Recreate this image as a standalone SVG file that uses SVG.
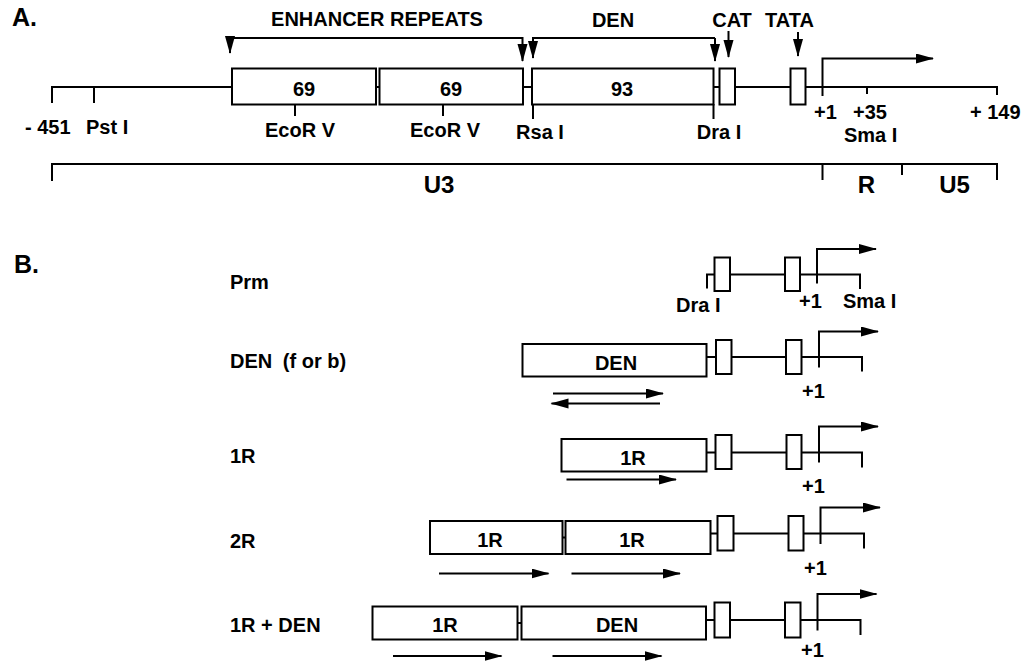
<svg xmlns="http://www.w3.org/2000/svg" width="1026" height="662" viewBox="0 0 1026 662">
<defs>
<style>
text{font-family:"Liberation Sans",Arial,sans-serif;font-weight:bold;fill:#000}
.h{font-size:25px}
.l{font-size:20px}
.b{font-size:24px}
.m{text-anchor:middle}
.ln{fill:none;stroke:#000;stroke-width:2}
.bx{fill:#fff;stroke:#000;stroke-width:2}
.ar{fill:none;stroke:#000;stroke-width:2;marker-end:url(#ah)}
</style>
<marker id="ah" markerUnits="userSpaceOnUse" markerWidth="19" markerHeight="11" refX="17" refY="5" orient="auto">
<path d="M0,0 L18,5 L0,10 z" fill="#000"/>
</marker>
</defs>
<rect width="1026" height="662" fill="#fff"/>

<g id="panelA-title"><text class="h" x="12" y="26">A.</text></g>

<g id="connectors">
<path class="ln" d="M52,103 V87 H997 V95 M94,87 V103 M867,87 V94"/>
<path class="ln" d="M295,104 V116 M443,104 V116 M533,104 V119 M713.5,104 V119"/>
<path class="ar" d="M230,38 V53"/>
<path class="ar" d="M230,38 H522.5 V61"/>
<path class="ar" d="M715,38 V61"/>
<path class="ar" d="M715,38 H533 V58"/>
<path class="ar" d="M728.5,31 V57"/>
<path class="ar" d="M798,32 V56"/>
<path class="ar" d="M822.5,96 V58.5 H933"/>
<path class="ln" d="M52,181 V164 H997 V180 M822.5,164 V180 M902,164 V175"/>

<path class="ln" d="M707,288.5 V274.5 H860 V289"/>
<path class="ar" d="M817,283.5 V249 H876"/>

<path class="ln" d="M706.5,357 H862 V371.5"/>
<path class="ar" d="M819,367.5 V331.5 H878"/>
<path class="ar" d="M553,393.5 H663"/>
<path class="ar" d="M660,403.5 H551.5"/>

<path class="ln" d="M706.5,452.5 H862 V467.5"/>
<path class="ar" d="M819,462.5 V426.5 H878"/>
<path class="ar" d="M566.5,479.5 H676"/>

<path class="ln" d="M562.5,537.5 H565.5 M710.5,533.5 H864 V548.5"/>
<path class="ar" d="M820.5,544 V507.5 H880"/>
<path class="ar" d="M439,573.5 H548.5"/>
<path class="ar" d="M571.5,573.5 H680"/>

<path class="ln" d="M517.5,623 H521.5 M706,620 H860.5 V635"/>
<path class="ar" d="M817.5,630.5 V594 H876.5"/>
<path class="ar" d="M393,656 H501.5"/>
<path class="ar" d="M552.5,656 H661.5"/>
</g>

<g id="enhancer-label"><text class="l m" x="377" y="26">ENHANCER REPEATS</text></g>
<g id="den-label"><text class="l m" x="613" y="27">DEN</text></g>
<g id="cat-label"><text class="l m" x="732" y="27">CAT</text></g>
<g id="tata-label"><text class="l m" x="789.5" y="27">TATA</text></g>

<g id="repeat1"><rect class="bx" x="232" y="68.5" width="144" height="36"/><text class="l m" x="304" y="96">69</text></g>
<g id="repeat2"><rect class="bx" x="379.5" y="68.5" width="143.5" height="36"/><text class="l m" x="451" y="96">69</text></g>
<path class="ln" d="M376,87 H379.5 M523,87 H532"/>
<g id="den93"><rect class="bx" x="532" y="68.5" width="181.5" height="36"/><text class="l m" x="622" y="96">93</text></g>
<g id="cat-box-A"><rect class="bx" x="719.5" y="68.5" width="15.5" height="36"/></g>
<g id="tata-box-A"><rect class="bx" x="790.5" y="68.5" width="15" height="36"/></g>

<g id="sites-A">
<text class="l" x="25" y="134">- 451</text>
<text class="l" x="86" y="134">Pst I</text>
<text class="l m" x="300" y="137">EcoR V</text>
<text class="l m" x="445" y="137">EcoR V</text>
<text class="l m" x="540" y="139">Rsa I</text>
<text class="l m" x="719" y="139">Dra I</text>
<text class="l" x="814" y="119">+1</text>
<text class="l" x="853" y="119">+35</text>
<text class="l" x="970" y="119">+ 149</text>
<text class="l" x="844" y="142">Sma I</text>
</g>

<g id="regions">
<text class="b m" x="439" y="193">U3</text>
<text class="b m" x="866.5" y="193">R</text>
<text class="b m" x="954.5" y="193">U5</text>
</g>

<g id="panelB-title"><text class="h" x="14" y="273">B.</text></g>

<g id="row-prm">
<text class="l" x="230" y="289">Prm</text>
<rect class="bx" x="714.5" y="257.5" width="15.5" height="33.5"/>
<rect class="bx" x="785" y="257.5" width="15" height="33.5"/>
<text class="l" x="676" y="312">Dra I</text>
<text class="l" x="799" y="308">+1</text>
<text class="l" x="843" y="308">Sma I</text>
</g>

<g id="row-den">
<text class="l" x="230" y="368">DEN <tspan dx="5">(f or b)</tspan></text>
<rect class="bx" x="522.5" y="344" width="184" height="32.5"/>
<text class="l m" x="616" y="370">DEN</text>
<rect class="bx" x="716" y="340" width="15.5" height="34"/>
<rect class="bx" x="786" y="340" width="15.5" height="34"/>
<text class="l" x="802" y="398">+1</text>
</g>

<g id="row-1r">
<text class="l" x="230" y="463">1R</text>
<rect class="bx" x="561.5" y="439" width="145" height="32.5"/>
<text class="l m" x="633" y="465">1R</text>
<rect class="bx" x="715.5" y="435" width="16" height="34"/>
<rect class="bx" x="786.5" y="435" width="15" height="34"/>
<text class="l" x="802" y="493">+1</text>
</g>

<g id="row-2r">
<text class="l" x="230" y="548">2R</text>
<rect class="bx" x="430" y="521" width="132.5" height="33"/>
<text class="l m" x="490" y="546.5">1R</text>
<rect class="bx" x="565.5" y="521" width="145" height="33"/>
<text class="l m" x="632" y="546.5">1R</text>
<rect class="bx" x="717.5" y="516" width="16" height="34.5"/>
<rect class="bx" x="788.5" y="516" width="15" height="34.5"/>
<text class="l" x="804" y="575">+1</text>
</g>

<g id="row-1r-den">
<text class="l" x="230" y="632">1R + DEN</text>
<rect class="bx" x="372.5" y="606.5" width="145" height="33"/>
<text class="l m" x="445" y="632">1R</text>
<rect class="bx" x="521.5" y="606.5" width="184.5" height="33"/>
<text class="l m" x="617" y="632">DEN</text>
<rect class="bx" x="714.5" y="602.5" width="15.5" height="35"/>
<rect class="bx" x="785" y="602.5" width="15.5" height="35"/>
<text class="l" x="801" y="657">+1</text>
</g>
</svg>
